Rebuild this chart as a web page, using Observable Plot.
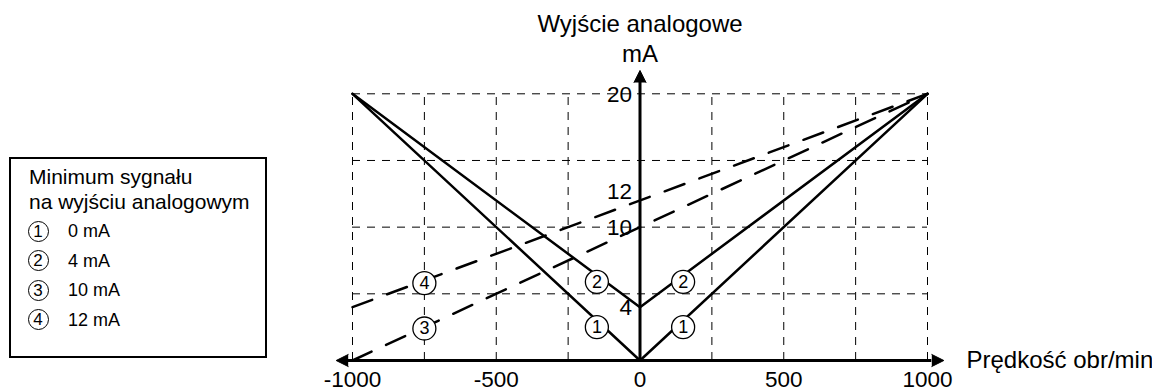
<!DOCTYPE html>
<html>
<head>
<meta charset="utf-8">
<script src="https://cdn.jsdelivr.net/npm/d3@7"></script>
<script src="https://cdn.jsdelivr.net/npm/@observablehq/plot@0.6"></script>
<style>
  html, body { margin: 0; padding: 0; background: #fff; }
  #wrap { position: relative; width: 1152px; height: 390px; overflow: hidden; font-family: "Liberation Sans", Arial, sans-serif; }
  #chart { position: absolute; left: 0; top: 0; }
  #legend { position: absolute; left: 9px; top: 157px; width: 254px; height: 197px; border: 2px solid #000; background: #fff; }
  #legend .t { position: absolute; left: 18px; font-size: 21px; line-height: 24px; white-space: nowrap; color: #000; }
  #legend .row { position: absolute; left: 0; height: 24px; width: 100%; }
  #legend .c { position: absolute; left: 16.5px; top: 1.5px; width: 19px; height: 19px; border: 1.2px solid #000; border-radius: 50%; font-size: 17px; line-height: 19px; text-align: center; }
  #legend .l { position: absolute; left: 57px; top: 0; font-size: 18px; line-height: 24px; white-space: nowrap; }
</style>
</head>
<body>
<div id="wrap">
  <div id="chart"></div>
  <div id="legend"></div>
</div>
<script>
// ---- data ----
const xTicks = [-1000, -500, 0, 500, 1000];
const yTicksMid = [20, 10, 4];
const yTicksHigh = [12];
const xGrid = [-1000, -750, -500, -250, 250, 500, 750, 1000];
const yGrid = [5, 10, 15, 20];

const speedV = [-1000, 0, 1000];
const out0mA = [20, 0, 20];
const out4mA = [20, 4, 20];
const speedLin = [-1000, 1000];
const out10mA = [0, 20];
const out12mA = [4, 20];

const markNums = ["1", "1", "2", "2", "3", "4"];
const markX = [-150, 150, -150, 150, -750, -750];
const markY = [2.5, 2.5, 5.9, 5.9, 2.4, 5.8];

const legendTitle = ["Minimum sygnału", "na wyjściu analogowym"];
const legendNums = ["1", "2", "3", "4"];
const legendTexts = ["0 mA", "4 mA", "10 mA", "12 mA"];

const yTitle = ["Wyjście analogowe", "mA"];
const xTitle = "Prędkość obr/min";

const xAxisEnds = [-1015, 1015];
const yAxisTop = 20.85;

// ---- chart ----
const font = "Liberation Sans, Arial, sans-serif";
const arrowHeads = [
  {x: xAxisEnds[0], y: 0, rot: -90},
  {x: xAxisEnds[1], y: 0, rot: 90},
  {x: 0, y: yAxisTop, rot: 0}
];

const plot = Plot.plot({
  width: 1152,
  height: 390,
  marginLeft: 352,
  marginRight: 225,
  marginTop: 93.3,
  marginBottom: 30,
  style: {fontFamily: font, background: "transparent", color: "#000"},
  x: {domain: [-1000, 1000], axis: null},
  y: {domain: [0, 20], axis: null},
  marks: [
    Plot.ruleX(xGrid, {x: d => d, y1: 0, y2: 20, stroke: "#000", strokeWidth: 1, strokeDasharray: "8,7"}),
    Plot.ruleY(yGrid, {y: d => d, x1: -1000, x2: 1000, stroke: "#000", strokeWidth: 1, strokeDasharray: "8,7"}),
    Plot.line(speedV, {x: speedV, y: out0mA, stroke: "#000", strokeWidth: 2.5}),
    Plot.line(speedV, {x: speedV, y: out4mA, stroke: "#000", strokeWidth: 2.5}),
    Plot.line(speedLin, {x: speedLin, y: out10mA, stroke: "#000", strokeWidth: 2.5, strokeDasharray: "21,16"}),
    Plot.line(speedLin, {x: speedLin, y: out12mA, stroke: "#000", strokeWidth: 2.5, strokeDasharray: "21,16"}),
    Plot.ruleY([0], {x1: xAxisEnds[0], x2: xAxisEnds[1], stroke: "#000", strokeWidth: 3}),
    Plot.ruleX([0], {y1: 0, y2: yAxisTop, stroke: "#000", strokeWidth: 3}),
    Plot.vector(arrowHeads, {x: "x", y: "y", rotate: "rot", length: 12, r: 6, shape: "spike", anchor: "start", fill: "#000", stroke: "#000", strokeWidth: 1}),
    Plot.text(xTicks, {x: d => d, frameAnchor: "bottom", dy: 26, text: d => String(d), fontSize: 22.5, fill: "#000"}),
    Plot.text(yTicksMid, {x: 0, y: d => d, dx: -8, dy: 1, textAnchor: "end", text: d => String(d), fontSize: 22.5, fill: "#000"}),
    Plot.text(yTicksHigh, {x: 0, y: d => d, dx: -8, dy: -9, textAnchor: "end", text: d => String(d), fontSize: 22.5, fill: "#000"}),
    Plot.text([yTitle[0]], {x: 0, frameAnchor: "top", dy: -79, text: d => d, fontSize: 24, fill: "#000"}),
    Plot.text([yTitle[1]], {x: 0, frameAnchor: "top", dy: -49, text: d => d, fontSize: 24, fill: "#000"}),
    Plot.text([xTitle], {x: 1000, frameAnchor: "bottom", dx: 39, dy: 7, textAnchor: "start", text: d => d, fontSize: 24, fill: "#000"}),
    Plot.dot(markNums, {x: markX, y: markY, r: 11.5, fill: "#fff", stroke: "#000", strokeWidth: 1.3}),
    Plot.text(markNums, {x: markX, y: markY, text: d => d, fontSize: 18, fill: "#000"})
  ]
});
document.getElementById("chart").appendChild(plot);

// ---- legend ----
const lg = d3.select("#legend");
legendTitle.forEach((t, i) => {
  lg.append("div").attr("class", "t").style("top", (6 + i * 25) + "px").text(t);
});
legendNums.forEach((n, i) => {
  const row = lg.append("div").attr("class", "row").style("top", (60 + i * 29.5) + "px");
  row.append("div").attr("class", "c").text(n);
  row.append("div").attr("class", "l").text(legendTexts[i]);
});
</script>
</body>
</html>
